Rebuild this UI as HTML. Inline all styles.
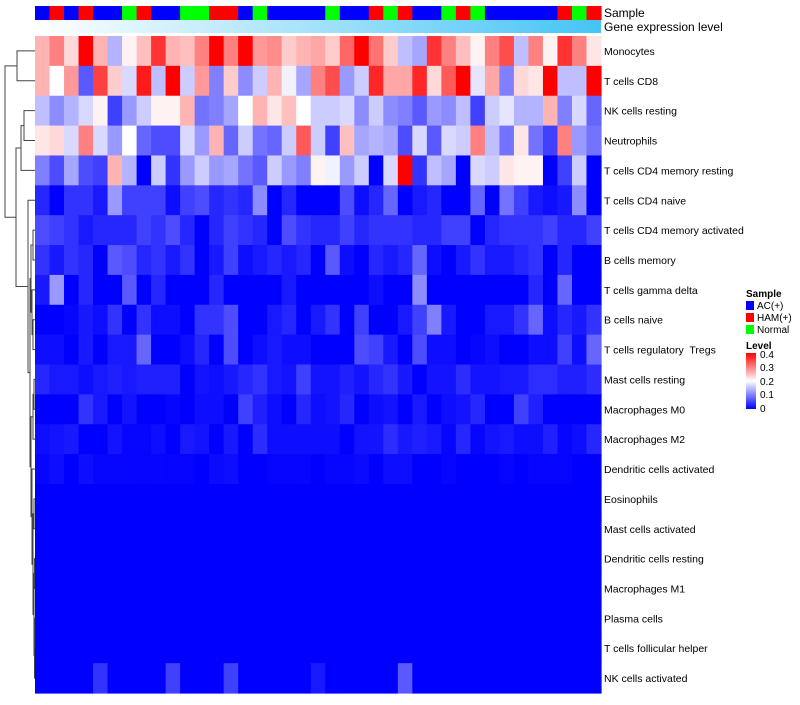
<!DOCTYPE html>
<html><head><meta charset="utf-8"><style>
body{margin:0;background:#fff;font-family:"Liberation Sans",sans-serif}
svg text{font-family:"Liberation Sans",sans-serif;white-space:pre}
</style></head><body>
<svg id="chart" width="800" height="700" viewBox="0 0 800 700" xmlns="http://www.w3.org/2000/svg">
<defs>
<linearGradient id="geneGrad" x1="0" x2="1" y1="0" y2="0"><stop offset="0" stop-color="#ffffff"/><stop offset="1" stop-color="#45c4f5"/></linearGradient>
<linearGradient id="levelGrad" x1="0" x2="0" y1="1" y2="0"><stop offset="0" stop-color="#0000ff"/><stop offset="0.5" stop-color="#ffffff"/><stop offset="1" stop-color="#ff0000"/></linearGradient>
</defs>
<g id="cells"></g>
<g id="sampleBar"></g>
<rect x="35" y="20" width="566" height="13" fill="url(#geneGrad)"/>
<text x="604" y="17" font-size="12">Sample</text>
<text x="604" y="31" font-size="12">Gene expression level</text>
<g id="rowLabels"></g>
<g id="dendro" stroke="#444" stroke-width="1" fill="none"></g>
<g font-size="10">
<text x="746" y="297" font-weight="bold">Sample</text>
<rect x="746" y="301" width="8" height="9" fill="#0000ff"/>
<text x="757" y="309">AC(+)</text>
<rect x="746" y="313" width="8" height="9" fill="#ff0000"/>
<text x="757" y="321">HAM(+)</text>
<rect x="746" y="325" width="8" height="9" fill="#00ff00"/>
<text x="757" y="333">Normal</text>
<text x="746" y="349" font-weight="bold">Level</text>
<rect x="746" y="353" width="10" height="56" fill="url(#levelGrad)"/>
<text x="760" y="358">0.4</text>
<text x="760" y="371">0.3</text>
<text x="760" y="385">0.2</text>
<text x="760" y="398">0.1</text>
<text x="760" y="412">0</text>
</g>
</svg>
<script>
const rowNames=["Monocytes","T cells CD8","NK cells resting","Neutrophils","T cells CD4 memory resting","T cells CD4 naive","T cells CD4 memory activated","B cells memory","T cells gamma delta","B cells naive","T cells regulatory  Tregs","Mast cells resting","Macrophages M0","Macrophages M2","Dendritic cells activated","Eosinophils","Mast cells activated","Dendritic cells resting","Macrophages M1","Plasma cells","T cells follicular helper","NK cells activated"];
const sampleGroups="B R B R B B G R B B G G R R B G B B B B G B B R G R B B G R G B B B B B R G R".split(" ");
const rowMonocytes=[.26,.30,.23,.40,.26,.14,.21,.25,.36,.26,.25,.30,.40,.30,.40,.28,.29,.24,.26,.27,.24,.32,.40,.31,.24,.15,.13,.36,.30,.25,.21,.30,.34,.15,.30,.21,.36,.30,.22];
const rowCD8=[.26,.20,.28,.07,.35,.24,.17,.38,.15,.40,.16,.28,.10,.24,.11,.16,.26,.19,.13,.30,.34,.12,.16,.37,.27,.27,.37,.23,.33,.40,.18,.27,.10,.23,.22,.40,.15,.15,.40];
const rowNKr=[.15,.11,.14,.17,.21,.05,.12,.16,.21,.21,.26,.09,.10,.13,.20,.26,.22,.25,.20,.16,.16,.17,.11,.16,.11,.10,.07,.12,.11,.15,.05,.16,.18,.14,.14,.26,.10,.17,.08];
const rowNeut=[.22,.23,.17,.30,.17,.12,.20,.08,.06,.06,.17,.12,.26,.08,.16,.09,.08,.16,.33,.16,.05,.25,.13,.14,.13,.06,.17,.07,.17,.16,.30,.15,.09,.22,.09,.05,.30,.12,.09];
const rowCD4mr=[.10,.06,.13,.06,.05,.26,.14,0,.16,.04,.12,.16,.12,.13,.09,.07,.16,.12,.10,.21,.19,.12,.16,0,.17,.40,.04,.15,.13,0,.17,.16,.22,.21,.21,0,.05,.16,0];
const rowCD4n=[.03,0,.04,.04,.02,.12,.05,.05,.05,.01,.05,.06,.03,.04,.03,.11,0,.03,0,0,0,.06,.01,.03,.08,0,.02,.03,0,0,.08,0,.09,.05,.02,.01,.02,.11,0];
const rowCD4ma=[.06,.05,.04,.02,.03,.03,.03,.05,.04,.06,.03,0,.03,.05,.04,.03,0,.06,.04,.03,.03,.05,.03,.04,.04,.04,.03,.03,.05,.05,0,.03,.04,.04,.04,.05,.03,.03,.05];
const rowBmem=[.04,.02,.04,.03,0,.07,.06,.03,.04,.02,.04,0,.02,.05,.01,.02,.03,.02,.03,0,.07,.01,0,.03,.02,.03,.08,.01,0,.02,.04,.02,.02,.03,.04,0,.03,0,0];
const rowTgd=[.02,.12,0,.03,0,0,.07,0,.03,0,0,0,.03,0,0,0,0,.02,0,0,0,0,0,.01,0,0,.11,0,0,0,0,0,0,0,.03,0,.08,0,0];
const rowBn=[0,0,.005,.02,.01,.04,0,.04,.01,.01,0,.04,.04,.06,0,0,.02,.03,0,.02,.04,0,.05,0,0,.02,.05,.10,.02,0,0,.02,.02,.04,.08,.01,.03,.02,.04];
const rowTreg=[.01,.01,0,.02,0,.02,.02,.08,0,0,.01,.03,0,.06,0,.01,.02,.01,.01,0,0,0,.06,.05,.02,0,.06,.01,.01,0,.005,.01,0,0,.01,.01,.05,.01,.08];
const rowMastR=[.03,.02,.02,.01,.02,.025,.02,.025,.025,.025,0,.015,.01,.02,.03,.04,.02,.015,.05,.015,.015,.025,.015,.03,.04,.02,0,.015,.015,.035,.015,.015,.02,.02,.035,.035,.025,.025,.035];
const rowM0=[0,0,0,.04,.02,0,.015,0,0,.005,0,.01,.01,0,.05,.025,.01,0,.03,.01,.015,.03,0,.01,.015,0,.02,0,.01,.015,.03,0,0,.05,.025,0,0,0,0];
const rowM2=[.01,.015,.02,0,0,.015,.005,.005,.01,0,.02,.015,0,.02,0,.035,.01,.01,.01,.01,.01,0,.015,.015,.035,.02,.025,.02,.005,.03,.005,.015,.02,.01,.01,.025,.005,.01,.03];
const rowDCa=[.005,.01,0,.01,.005,.005,.005,.003,.005,.003,.003,0,.008,.01,0,0,.003,.003,.005,0,.005,.005,.008,0,.01,.01,0,0,.005,0,0,0,.003,0,.003,.003,.003,0,0];
const rowEos=[0,0,0,0,0,0,0,0,0,0,0,0,0,0,0,0,0,0,0,0,0,0,0,0,0,0,0,0,0,0,0,0,0,0,0,0,0,0,0];
const rowMastA=rowEos.slice(), rowDCr=rowEos.slice(), rowM1=rowEos.slice(), rowPlasma=rowEos.slice(), rowTfh=rowEos.slice();
const rowNKa=[0,0,0,0,.04,0,0,0,0,.05,0,0,0,.05,0,0,0,0,0,.02,0,0,0,0,0,.07,0,0,0,0,0,0,0,0,0,0,0,0,0];
const values=[rowMonocytes,rowCD8,rowNKr,rowNeut,rowCD4mr,rowCD4n,rowCD4ma,rowBmem,rowTgd,rowBn,rowTreg,rowMastR,rowM0,rowM2,rowDCa,rowEos,rowMastA,rowDCr,rowM1,rowPlasma,rowTfh,rowNKa];

const NS="http://www.w3.org/2000/svg";
const X0=35,X1=601,Y0=36,Y1=693;
const nCol=sampleGroups.length,nRow=rowNames.length;
const cw=(X1-X0)/nCol,rh=(Y1-Y0)/nRow;
const xPos=i=>X0+i*cw, yPos=j=>Y0+j*rh;
function color(v){
  let t=Math.max(0,Math.min(0.4,v))/0.4,r,g,b;
  if(t<=0.5){const s=t/0.5;r=255*s;g=255*s;b=255;}else{const s=(t-0.5)/0.5;r=255;g=255*(1-s);b=255*(1-s);}
  return `rgb(${Math.round(r)},${Math.round(g)},${Math.round(b)})`;
}
function mk(tag,attrs,parent){const e=document.createElementNS(NS,tag);for(const k in attrs)e.setAttribute(k,attrs[k]);parent.appendChild(e);return e;}
const cells=document.getElementById('cells');
values.forEach((row,j)=>row.forEach((v,i)=>{
  const r=mk('rect',{x:xPos(i),y:yPos(j),width:cw+0.6,height:rh+0.6,fill:color(v)},cells);
  
  
}));
const sb=document.getElementById('sampleBar');
const gc={B:'#0000ff',R:'#ff0000',G:'#00ff00'};
sampleGroups.forEach((g,i)=>{
  const r=mk('rect',{x:xPos(i),y:6,width:cw+0.6,height:14,fill:gc[g]},sb);
  
  
});
const rl=document.getElementById('rowLabels');
rowNames.forEach((n,j)=>{
  const t=mk('text',{x:604,y:yPos(j)+rh/2+4,'font-size':'10.5'},rl);
  t.setAttribute('xml:space','preserve');
  t.textContent=n;
  
  
});
const tree={x:5,l:{x:17,l:0,r:1},r:{x:16,l:{x:21,l:{x:24,l:2,r:3},r:4},r:{x:28,l:5,r:{x:30,
 l:{x:31,l:{x:33,l:6,r:7},r:{x:32,l:8,r:{x:33,l:9,r:10}}},
 r:{x:31,l:{x:33,l:{x:34,l:11,r:12},r:13},r:{x:32,l:14,r:{x:33,l:{x:34,l:15,r:16},r:{x:34,l:{x:34.5,l:17,r:18},r:{x:34.5,l:{x:34.7,l:19,r:20},r:21}}}}}}}}};
const dg=document.getElementById('dendro');
function draw(n){
  if(typeof n==='number')return{x:X0,y:yPos(n)+rh/2};
  const a=draw(n.l),b=draw(n.r);
  mk('path',{d:`M${a.x},${a.y}H${n.x}V${b.y}H${b.x}`},dg);
  return{x:n.x,y:(a.y+b.y)/2};
}
draw(tree);
</script>
</body></html>
